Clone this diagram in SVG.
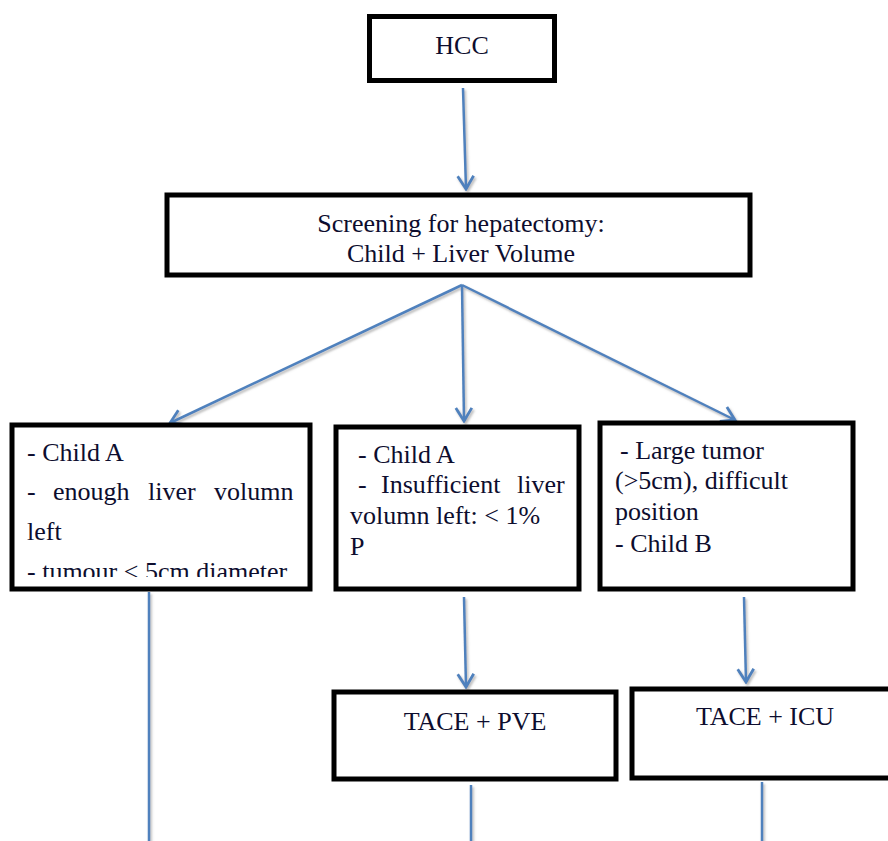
<svg xmlns="http://www.w3.org/2000/svg" width="888" height="841" viewBox="0 0 888 841">
<style>
.box{fill:#fff;stroke:#000;stroke-width:5}
.t{font-family:"Liberation Serif","Times New Roman",serif;font-size:26px;fill:#0d0d2e}
.c{text-anchor:middle}
.ln{stroke:#4F81BD;stroke-width:2.5;fill:none}
</style>
<defs>
<filter id="sh" x="-20%" y="-20%" width="140%" height="140%">
<feDropShadow dx="1.5" dy="2" stdDeviation="1" flood-color="#888" flood-opacity="0.6"/>
</filter>
<marker id="ah" viewBox="-16 -10 18 20" markerWidth="18" markerHeight="20" refX="0" refY="0" orient="auto" markerUnits="userSpaceOnUse">
<path d="M-13,-8 L0,0 L-13,8" fill="none" stroke="#4F81BD" stroke-width="2.8"/>
</marker>
<clipPath id="clipL"><rect x="12" y="425" width="298" height="152"/></clipPath>
</defs>
<g id="connectors" filter="url(#sh)">
<line class="ln" x1="463" y1="88" x2="466" y2="189" marker-end="url(#ah)"/>
<line class="ln" x1="462" y1="285" x2="170" y2="423" marker-end="url(#ah)"/>
<line class="ln" x1="462" y1="285" x2="464" y2="421" marker-end="url(#ah)"/>
<line class="ln" x1="462" y1="285" x2="735" y2="420" marker-end="url(#ah)"/>
<line class="ln" x1="464" y1="597" x2="466" y2="687" marker-end="url(#ah)"/>
<line class="ln" x1="744" y1="597" x2="746" y2="682" marker-end="url(#ah)"/>
<line class="ln" x1="149" y1="592" x2="149" y2="841"/>
<line class="ln" x1="471" y1="785" x2="471" y2="841"/>
<line class="ln" x1="762" y1="782" x2="762" y2="841"/>
</g>
<g id="hcc">
<rect class="box" x="369.5" y="16.5" width="185" height="64"/>
<text class="t c" x="462" y="54">HCC</text>
</g>
<g id="screening">
<rect class="box" x="167" y="195" width="583" height="80"/>
<text class="t c" x="461" y="232">Screening for hepatectomy:</text>
<text class="t c" x="461" y="262">Child + Liver Volume</text>
</g>
<g id="left">
<rect class="box" x="12" y="425" width="298" height="164"/>
<g clip-path="url(#clipL)">
<text class="t" x="27" y="461">- Child A</text>
<text class="t" y="500"><tspan x="27">-</tspan><tspan x="53">enough</tspan><tspan x="148">liver</tspan><tspan x="214">volumn</tspan></text>
<text class="t" x="27" y="540">left</text>
<text class="t" x="27" y="580">- tumour &lt; 5cm diameter</text>
</g>
</g>
<g id="middle">
<rect class="box" x="336" y="427" width="243" height="162"/>
<text class="t" x="358" y="463">- Child A</text>
<text class="t" y="493"><tspan x="358">-</tspan><tspan x="381">Insufficient</tspan><tspan x="517">liver</tspan></text>
<text class="t" x="350" y="524">volumn left: &lt; 1%</text>
<text class="t" x="350" y="555">P</text>
</g>
<g id="right">
<rect class="box" x="600" y="423" width="253" height="166"/>
<text class="t" x="620" y="459">- Large tumor</text>
<text class="t" x="615" y="489">(&gt;5cm), difficult</text>
<text class="t" x="615" y="520">position</text>
<text class="t" x="615" y="552">- Child B</text>
</g>
<g id="tace-pve">
<rect class="box" x="334" y="692" width="282" height="87"/>
<text class="t c" x="475" y="730">TACE + PVE</text>
</g>
<g id="tace-icu">
<rect class="box" x="632" y="689" width="262" height="89"/>
<text class="t c" x="765" y="725">TACE + ICU</text>
</g>
</svg>
